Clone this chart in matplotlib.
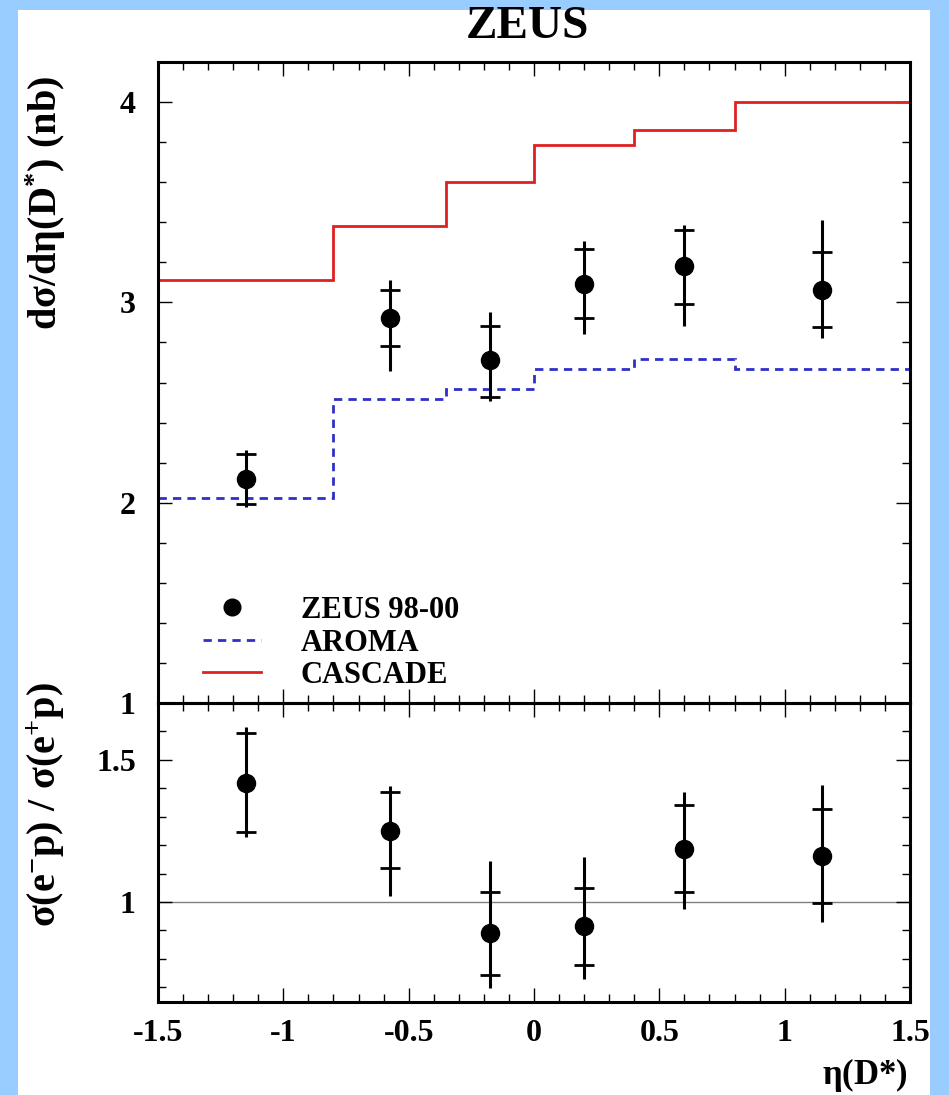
import matplotlib
matplotlib.use("Agg")
import matplotlib.pyplot as plt
from matplotlib.lines import Line2D
from matplotlib.patches import Rectangle
from matplotlib.ticker import MultipleLocator, FixedLocator
import numpy as np

# ---------------- data ----------------
eta_edges = [-1.5, -0.8, -0.35, 0.0, 0.4, 0.8, 1.5]
eta_centers = [-1.15, -0.575, -0.175, 0.2, 0.6, 1.15]

xsec = [2.12, 2.92, 2.71, 3.09, 3.18, 3.06]
xsec_stat_up = [0.125, 0.14, 0.17, 0.175, 0.18, 0.19]
xsec_stat_dn = [0.125, 0.14, 0.18, 0.167, 0.19, 0.183]
xsec_tot_up = [0.145, 0.19, 0.24, 0.217, 0.205, 0.35]
xsec_tot_dn = [0.14, 0.263, 0.20, 0.25, 0.30, 0.24]

aroma = [2.023, 2.518, 2.57, 2.665, 2.718, 2.668]
cascade = [3.11, 3.38, 3.60, 3.785, 3.86, 4.0]

ratio = [1.42, 1.25, 0.89, 0.915, 1.187, 1.16]
ratio_stat_up = [0.175, 0.136, 0.146, 0.135, 0.155, 0.167]
ratio_stat_dn = [0.174, 0.130, 0.147, 0.137, 0.153, 0.165]
ratio_tot_up = [0.196, 0.158, 0.254, 0.244, 0.201, 0.252]
ratio_tot_dn = [0.191, 0.229, 0.192, 0.185, 0.213, 0.229]

x_ticks = [-1.5, -1, -0.5, 0, 0.5, 1, 1.5]
x_ticklabels = ["-1.5", "-1", "-0.5", "0", "0.5", "1", "1.5"]
top_yticks = [1, 2, 3, 4]
top_yticklabels = ["1", "2", "3", "4"]
bot_yticks = [1.0, 1.5]
bot_yticklabels = ["1", "1.5"]

legend_labels = ["ZEUS 98-00", "AROMA", "CASCADE"]

# ---------------- style ----------------
plt.rcParams["font.family"] = ["Liberation Serif", "DejaVu Serif"]
plt.rcParams["font.weight"] = "bold"
plt.rcParams["axes.unicode_minus"] = False
plt.rcParams["mathtext.fontset"] = "custom"
plt.rcParams["mathtext.rm"] = "Liberation Serif"
plt.rcParams["mathtext.bf"] = "Liberation Serif:bold"
plt.rcParams["mathtext.it"] = "Liberation Serif:italic"

W, H = 949, 1095
fig = plt.figure(figsize=(W / 100, H / 100), dpi=100)
fig.patch.set_facecolor("#99ccff")
fig.patches.append(Rectangle((18 / W, 0), (930 - 18) / W, 1 - 10 / H,
                             transform=fig.transFigure, facecolor="white",
                             edgecolor="none", zorder=-10))

L, R = 158 / W, 910 / W
top_t, mid, bot_b = 1 - 62 / H, 1 - 703 / H, 1 - 1002 / H
ax1 = fig.add_axes([L, mid, R - L, top_t - mid])
ax2 = fig.add_axes([L, bot_b, R - L, mid - bot_b])
for a in (ax1, ax2):
    a.set_zorder(5)
    a.patch.set_alpha(0.0)

red = "#e02020"
blue = "#3030c8"
frame_lw = 2.2
err_lw = 2.2


def style_axes(ax):
    for s in ax.spines.values():
        s.set_linewidth(frame_lw)
    ax.tick_params(which="both", direction="in", top=True, right=True,
                   width=1.0, labelsize=23)
    ax.tick_params(which="major", length=10)
    ax.tick_params(which="minor", length=6)
    ax.tick_params(axis="y", pad=16)
    ax.tick_params(axis="x", pad=12)
    ax.set_xlim(-1.5, 1.5)
    ax.xaxis.set_major_locator(FixedLocator(x_ticks))
    ax.xaxis.set_minor_locator(MultipleLocator(0.1))


# ---- upper panel ----
style_axes(ax1)
ax1.set_ylim(1.0, 4.2)
ax1.set_yticks(top_yticks)
ax1.set_yticklabels(top_yticklabels, fontweight="bold")
ax1.yaxis.set_minor_locator(MultipleLocator(0.2))
ax1.set_xticklabels([])

ax1.stairs(cascade, eta_edges, baseline=None, color=red, lw=2.0, zorder=2)
ax1.stairs(aroma, eta_edges, baseline=None, color=blue, lw=2.0,
           linestyle=(0, (3, 2.2)), zorder=2)

ax1.errorbar(eta_centers, xsec, yerr=[xsec_tot_dn, xsec_tot_up], fmt="none",
             ecolor="black", elinewidth=err_lw, capsize=0, zorder=3)
xsec_arr = np.array(xsec)
ax1.plot(eta_centers, xsec_arr + np.array(xsec_stat_up), ls="none",
         marker="_", ms=15, mew=2.0, color="black", zorder=3)
ax1.plot(eta_centers, xsec_arr - np.array(xsec_stat_dn), ls="none",
         marker="_", ms=15, mew=2.0, color="black", zorder=3)
ax1.plot(eta_centers, xsec, ls="none", marker="o", ms=13, color="black",
         zorder=4)

handles = [
    Line2D([], [], ls="none", marker="o", ms=12, color="black"),
    Line2D([], [], color=blue, lw=2.0, ls=(0, (3, 2.2))),
    Line2D([], [], color=red, lw=2.0),
]
leg = ax1.legend(handles, legend_labels, loc="lower left",
                 bbox_to_anchor=(0.06, 0.02), frameon=False,
                 prop={"family": "Liberation Serif", "weight": "bold",
                       "size": 22},
                 handlelength=1.9, handletextpad=1.3, labelspacing=0.12,
                 borderaxespad=0.0, borderpad=0.0)

# ---- lower panel ----
style_axes(ax2)
ax2.set_ylim(0.648, 1.70)
ax2.set_yticks(bot_yticks)
ax2.set_yticklabels(bot_yticklabels, fontweight="bold")
ax2.yaxis.set_minor_locator(MultipleLocator(0.1))
ax2.set_xticklabels(x_ticklabels, fontweight="bold")

ax2.axhline(1.0, color="#808080", lw=1.0, zorder=1)
ax2.errorbar(eta_centers, ratio, yerr=[ratio_tot_dn, ratio_tot_up],
             fmt="none", ecolor="black", elinewidth=err_lw, capsize=0,
             zorder=3)
ratio_arr = np.array(ratio)
ax2.plot(eta_centers, ratio_arr + np.array(ratio_stat_up), ls="none",
         marker="_", ms=15, mew=2.0, color="black", zorder=3)
ax2.plot(eta_centers, ratio_arr - np.array(ratio_stat_dn), ls="none",
         marker="_", ms=15, mew=2.0, color="black", zorder=3)
ax2.plot(eta_centers, ratio, ls="none", marker="o", ms=13, color="black",
         zorder=4)

# ---- labels ----
fig.text(527 / W, 1 - 27 / H, "ZEUS", ha="center", va="center",
         fontsize=34, fontweight="bold")
fig.text(46 / W, 1 - 203 / H, r"$\mathbf{d\sigma/d\eta(D^{*})\ (nb)}$",
         rotation=90, ha="center", va="center", fontsize=29)
fig.text(46 / W, 1 - 805 / H,
         r"$\mathbf{\sigma(e^{-}p)\ /\ \sigma(e^{+}p)}$",
         rotation=90, ha="center", va="center", fontsize=29)
fig.text(908 / W, 1 - 1075 / H, r"$\mathrm{\eta}\mathbf{(D{*})}$",
         ha="right", va="center", fontsize=25)

fig.savefig("out.png", dpi=100, facecolor=fig.get_facecolor())
